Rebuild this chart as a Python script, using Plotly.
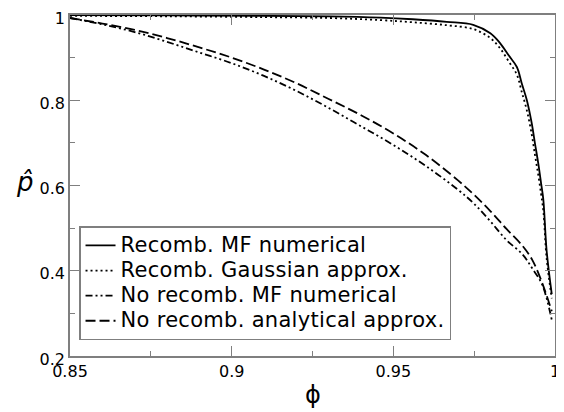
import plotly.graph_objects as go

# ---- data ----
phi_rec = [0.85, 0.88, 0.91, 0.93, 0.946, 0.956, 0.9665, 0.9747, 0.98, 0.983, 0.9856,
           0.9882, 0.9897, 0.9913, 0.9928, 0.9938, 0.9948, 0.9957, 0.9964, 0.9974, 0.999]
p_rec_mf = [0.9995, 0.999, 0.998, 0.997, 0.994, 0.990, 0.984, 0.977, 0.957, 0.934, 0.906,
            0.878, 0.840, 0.800, 0.746, 0.699, 0.653, 0.605, 0.566, 0.448, 0.345]
p_rec_gauss = [0.998, 0.997, 0.995, 0.993, 0.988, 0.983, 0.976, 0.967, 0.946, 0.922, 0.892,
               0.860, 0.820, 0.776, 0.720, 0.672, 0.626, 0.580, 0.540, 0.430, 0.335]

phi_norec = [0.85, 0.86, 0.87, 0.88, 0.89, 0.90, 0.91, 0.92, 0.93, 0.94, 0.95, 0.96,
             0.97, 0.975, 0.98, 0.985, 0.99, 0.993, 0.996, 0.999]
p_norec_mf = [0.993, 0.978, 0.960, 0.937, 0.912, 0.887, 0.857, 0.822, 0.782, 0.739, 0.695,
              0.646, 0.590, 0.557, 0.516, 0.472, 0.438, 0.405, 0.368, 0.285]
p_norec_an = [0.993, 0.980, 0.965, 0.946, 0.924, 0.900, 0.872, 0.840, 0.803, 0.765, 0.722,
              0.672, 0.612, 0.578, 0.540, 0.498, 0.458, 0.425, 0.372, 0.305]

series_names = ["Recomb. MF numerical", "Recomb. Gaussian approx.",
                "No recomb. MF numerical", "No recomb. analytical approx."]

x_tickvals = [0.85, 0.9, 0.95, 1.0]
x_ticktext = ["0.85", "0.9", "0.95", "1"]
y_tickvals = [0.2, 0.4, 0.6, 0.8, 1.0]
y_ticktext = ["0.2", "0.4", "0.6", "0.8", "1"]

FONT = "DejaVu Sans"
AXIS_COLOR = "#7f7f7f"


def legend_label(s):
    return '<span style="font-size:21px;letter-spacing:0.3px">' + s + '</span>'


styles = [
    dict(color="black", width=1.8, dash="solid"),
    dict(color="black", width=1.8, dash="2px,3px"),
    dict(color="black", width=1.8, dash="7px,3px,2px,3px,2px,3px"),
    dict(color="black", width=1.8, dash="10px,4px"),
]
xs = [phi_rec, phi_rec, phi_norec, phi_norec]
ys = [p_rec_mf, p_rec_gauss, p_norec_mf, p_norec_an]

fig = go.Figure()
for x, y, name, st in zip(xs, ys, series_names, styles):
    fig.add_trace(go.Scatter(x=x, y=y, mode="lines", name=legend_label(name),
                             line=dict(shape="spline", smoothing=1.0, **st)))

axis_common = dict(
    showgrid=False, zeroline=False, showline=True, linecolor=AXIS_COLOR, linewidth=1.5,
    mirror="allticks", ticks="inside", ticklen=10, tickwidth=1, tickcolor=AXIS_COLOR,
    automargin=False, ticklabeloverflow="allow",
    tickfont=dict(family=FONT, size=16, color="black"),
)

# the page body has an 8px margin, so the figure is drawn 8px smaller and offset
fig.update_layout(
    template="none",
    width=556, height=404,
    margin=dict(l=62, r=9, t=7, b=56, autoexpand=False),
    paper_bgcolor="white", plot_bgcolor="white",
    font=dict(family=FONT, color="black"),
    xaxis=dict(range=[0.85, 1.0], tickvals=x_tickvals, ticktext=x_ticktext,
               minor=dict(dtick=0.025, tick0=0.85, ticks="inside", ticklen=5,
                          tickcolor=AXIS_COLOR, tickwidth=1),
               **axis_common),
    yaxis=dict(range=[0.2, 1.0], tickvals=y_tickvals, ticktext=y_ticktext,
               ticklabelshift=3,
               minor=dict(dtick=0.1, tick0=0.2, ticks="inside", ticklen=5,
                          tickcolor=AXIS_COLOR, tickwidth=1),
               **axis_common),
    legend=dict(x=0.0186, y=0.38, xanchor="left", yanchor="top",
                bgcolor="white", bordercolor=AXIS_COLOR, borderwidth=1.5,
                font=dict(family=FONT, size=17, color="black"),
                tracegroupgap=0, itemwidth=30),
    showlegend=True,
)

fig.add_annotation(text="ϕ", xref="paper", yref="paper", x=0.5, y=-0.114,
                   xanchor="center", yanchor="middle", showarrow=False,
                   font=dict(family=FONT, size=24, color="black"))
fig.add_annotation(text="<i>p̂</i>", xref="paper", yref="paper", x=-0.093, y=0.51,
                   xanchor="center", yanchor="middle", showarrow=False,
                   font=dict(family=FONT, size=26, color="black"))

fig.write_html("out.html")
